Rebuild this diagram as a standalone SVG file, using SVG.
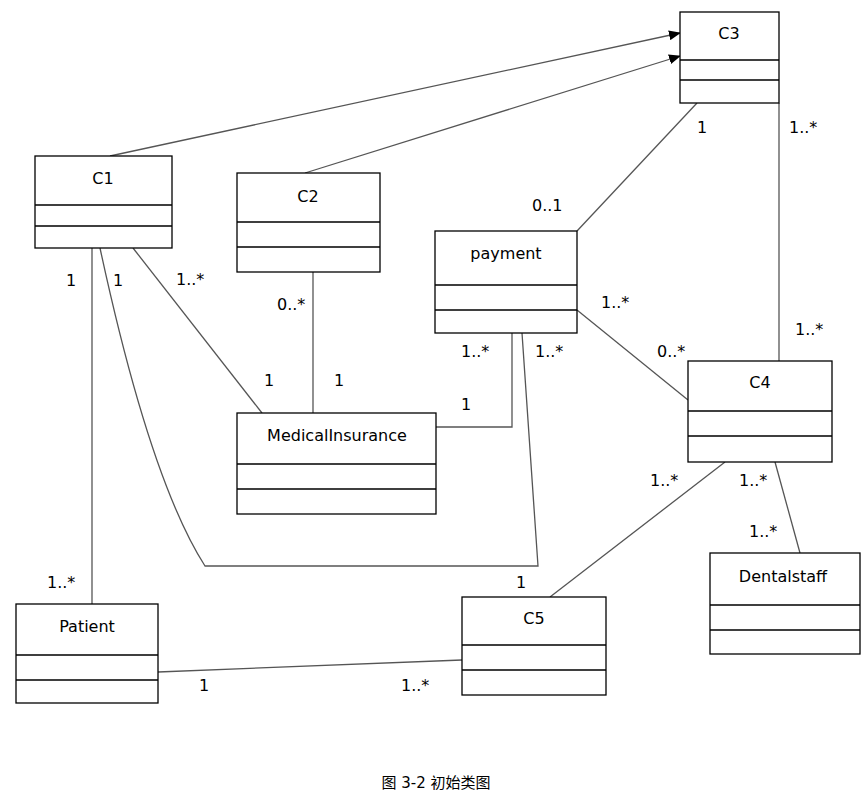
<svg xmlns="http://www.w3.org/2000/svg" width="865" height="803" viewBox="0 0 865 803">
<style>
rect{fill:#fff;stroke:#000;stroke-width:1.3}
.d{stroke:#000;stroke-width:1.3}
text{font-family:"DejaVu Sans","Noto Sans CJK SC",sans-serif;font-size:16px;fill:#000}
.n{text-anchor:middle}
.c path{fill:none;stroke:#555;stroke-width:1.3}
</style>
<defs><marker id="a" markerWidth="12" markerHeight="10" refX="11" refY="5" orient="auto" markerUnits="userSpaceOnUse"><path d="M0,0 L12,5 L0,10 Z" fill="#000"/></marker></defs>
<rect x="0" y="0" width="865" height="803" style="stroke:none"/>
<g class="c">
<path d="M110,156 L680,33" marker-end="url(#a)"/>
<path d="M305,173 L680,56" marker-end="url(#a)"/>
<path d="M697,103 L577,231"/>
<path d="M779,103 L779,361"/>
<path d="M133,248 L262,413"/>
<path d="M313,272 L313,413"/>
<path d="M436,427 L512,427 L512,333"/>
<path d="M100,248 Q150,480 205,566 L538,566 L522,333"/>
<path d="M92,248 L92,604"/>
<path d="M577,310 L688,400"/>
<path d="M725,462 L550,597"/>
<path d="M775,462 L800,553"/>
<path d="M158,672 L462,660"/>
</g>
<g id="labels">
<text x="697" y="133">1</text><text x="532" y="211">0..1</text>
<text x="789" y="133">1..*</text><text x="795" y="335">1..*</text>
<text x="176" y="285">1..*</text><text x="264" y="386">1</text>
<text x="277" y="310">0..*</text><text x="334" y="386">1</text>
<text x="461" y="410">1</text><text x="461" y="357">1..*</text>
<text x="113" y="286">1</text><text x="535" y="357">1..*</text>
<text x="66" y="286">1</text><text x="47" y="588">1..*</text>
<text x="601" y="308">1..*</text><text x="657" y="357">0..*</text>
<text x="650" y="486">1..*</text><text x="516" y="588">1</text>
<text x="739" y="486">1..*</text><text x="749" y="537">1..*</text>
<text x="199" y="691">1</text><text x="401" y="691">1..*</text>
</g>
<g id="C3"><rect x="680" y="12" width="99" height="91"/><path class="d" d="M680,60H779M680,80H779"/><text class="n" x="729" y="39">C3</text></g>
<g id="C1"><rect x="35" y="156" width="137" height="92"/><path class="d" d="M35,205H172M35,226H172"/><text class="n" x="103" y="184">C1</text></g>
<g id="C2"><rect x="237" y="173" width="143" height="99"/><path class="d" d="M237,222H380M237,247H380"/><text class="n" x="308" y="202">C2</text></g>
<g id="payment"><rect x="435" y="231" width="142" height="102"/><path class="d" d="M435,285H577M435,310H577"/><text class="n" x="506" y="259">payment</text></g>
<g id="MedicalInsurance"><rect x="237" y="413" width="199" height="101"/><path class="d" d="M237,464H436M237,489H436"/><text class="n" x="337" y="441">MedicalInsurance</text></g>
<g id="C4"><rect x="688" y="361" width="144" height="101"/><path class="d" d="M688,411H832M688,436H832"/><text class="n" x="760" y="388">C4</text></g>
<g id="Dentalstaff"><rect x="710" y="553" width="150" height="101"/><path class="d" d="M710,605H860M710,630H860"/><text class="n" x="783" y="582">Dentalstaff</text></g>
<g id="Patient"><rect x="16" y="604" width="142" height="99"/><path class="d" d="M16,655H158M16,680H158"/><text class="n" x="87" y="632">Patient</text></g>
<g id="C5"><rect x="462" y="597" width="144" height="98"/><path class="d" d="M462,645H606M462,670H606"/><text class="n" x="534" y="624">C5</text></g>
<text class="n" x="436" y="788" style="font-size:15px">图 3-2 初始类图</text>
</svg>
